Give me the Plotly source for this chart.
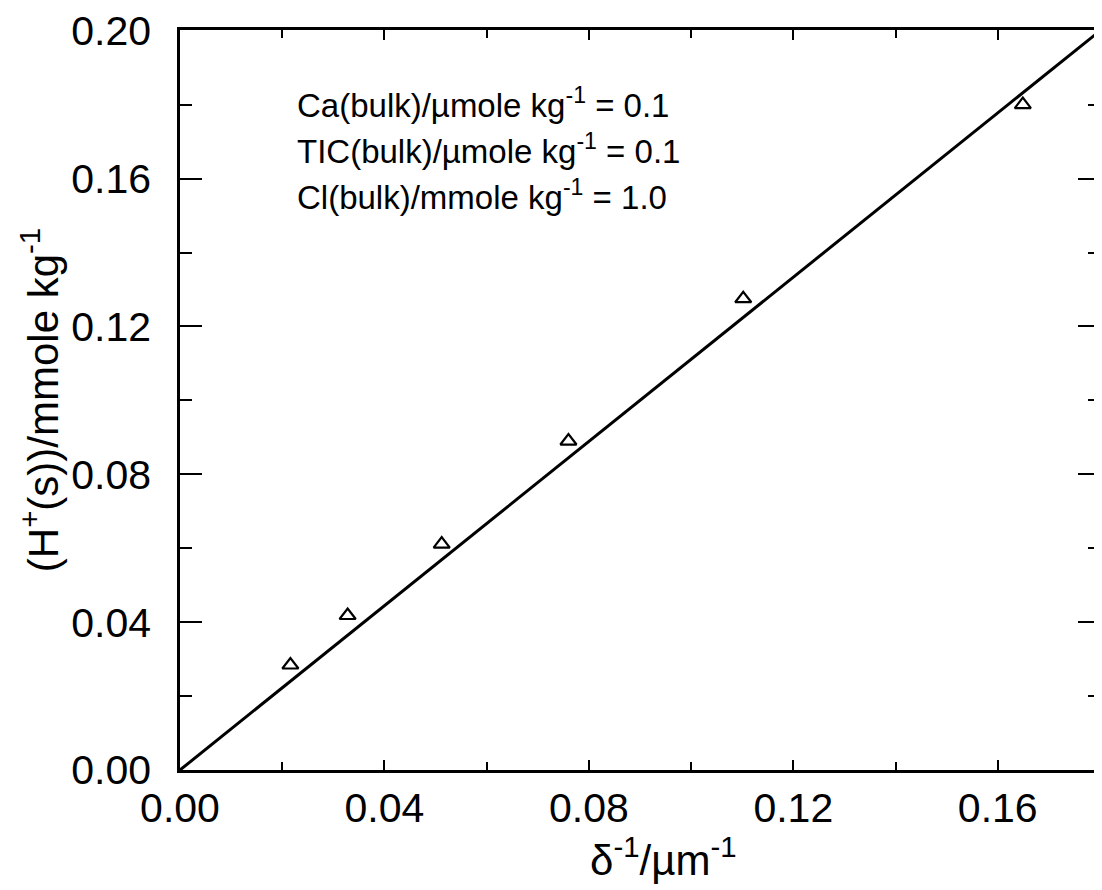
import plotly.graph_objects as go

# data
x_pts = [0.0216, 0.0328, 0.0512, 0.0760, 0.1102, 0.1649]
y_pts = [0.0284, 0.0418, 0.0611, 0.0890, 0.1275, 0.1800]
fit_x = [0.0, 0.18]
fit_y = [0.0, 0.20]
x_ticks = [0.00, 0.04, 0.08, 0.12, 0.16]
y_ticks = [0.00, 0.04, 0.08, 0.12, 0.16, 0.20]
notes = [
    "Ca(bulk)/µmole kg<sup>-1</sup> = 0.1",
    "TIC(bulk)/µmole kg<sup>-1</sup> = 0.1",
    "Cl(bulk)/mmole kg<sup>-1</sup> = 1.0",
]
note_y = [0.1805, 0.1680, 0.1555]

font = "Liberation Sans, Arial, Helvetica, sans-serif"

fig = go.Figure()
fig.add_trace(go.Scatter(x=fit_x, y=fit_y, mode="lines",
                         line=dict(color="black", width=3), showlegend=False))
fig.add_trace(go.Scatter(x=x_pts, y=y_pts, mode="markers",
                         marker=dict(symbol="triangle-up-open", size=14,
                                     color="black", line=dict(width=2.2)),
                         showlegend=False))

for t, yy in zip(notes, note_y):
    fig.add_annotation(x=0.0225, y=yy, text=t, showarrow=False, xanchor="left",
                       yanchor="middle", font=dict(size=33, color="black", family=font))

fig.add_annotation(xref="paper", yref="paper", x=-0.152, y=0.5,
                   text="(H<sup>+</sup>(s))/mmole kg<sup>-1</sup>", textangle=-90,
                   showarrow=False, xanchor="center", yanchor="middle",
                   font=dict(size=42, color="black", family=font))
fig.add_annotation(xref="paper", yref="paper", x=0.526, y=-0.118,
                   text="δ<sup>-1</sup>/µm<sup>-1</sup>",
                   showarrow=False, xanchor="center", yanchor="middle",
                   font=dict(size=42, color="black", family=font))

fig.update_xaxes(range=[0, 0.18], tickvals=x_ticks,
                 ticktext=[f"{v:.2f}" for v in x_ticks],
                 showline=True, linecolor="black", linewidth=2.5, mirror="allticks",
                 ticks="inside", ticklen=10, tickwidth=1.5, tickcolor="black",
                 minor=dict(ticks="inside", ticklen=8, dtick=0.02, tickcolor="black"),
                 showgrid=False, zeroline=False, automargin=False,
                 ticklabelstandoff=0,
                 tickfont=dict(size=41, color="black", family=font))
fig.update_yaxes(range=[0, 0.2002], tickvals=y_ticks,
                 ticktext=[f"{v:.2f}" for v in y_ticks],
                 showline=True, linecolor="black", linewidth=2.5, mirror="allticks",
                 ticks="inside", ticklen=22, tickwidth=2, tickcolor="black",
                 minor=dict(ticks="inside", ticklen=12, dtick=0.02, tickcolor="black"),
                 showgrid=False, zeroline=False, automargin=False,
                 ticklabelstandoff=18,
                 tickfont=dict(size=41, color="black", family=font))

fig.update_layout(width=1102, height=890, plot_bgcolor="white", paper_bgcolor="white",
                  margin=dict(l=172, r=10, t=22, b=128), font=dict(family=font))

fig.write_html("out.html")
